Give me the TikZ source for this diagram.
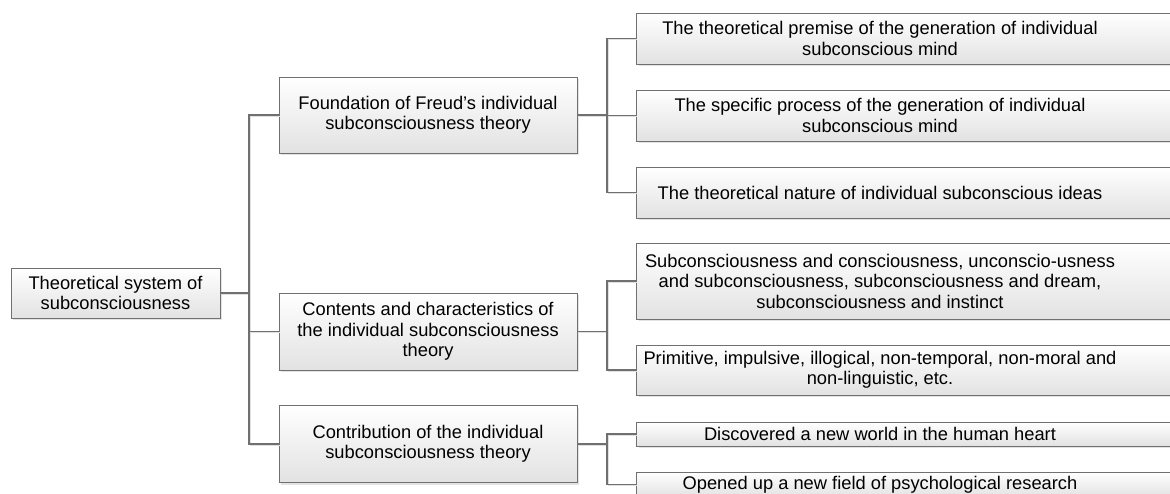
\documentclass[tikz,border=0pt]{standalone}
\usepackage{fontspec}
\setmainfont{Liberation Sans}
\usetikzlibrary{shadows}
\definecolor{edge}{RGB}{112,112,112}
\definecolor{boxbot}{RGB}{226,226,226}
\tikzset{
  box/.style={draw=edge, line width=0.9pt, rectangle, top color=white, bottom color=boxbot,
    drop shadow={shadow xshift=2.2pt, shadow yshift=-2.2pt, fill=black!18, opacity=0.6},
    inner sep=0pt, align=center, font=\fontsize{18.3}{20.5}\selectfont},
  txt/.style={inner sep=0pt, align=center, font=\fontsize{18.3}{20.5}\selectfont},
  conn/.style={draw=edge, line width=1.1pt,
    preaction={draw=black!12, line width=1.1pt, transform canvas={shift={(1.4pt,-1.4pt)}}}}
}
\begin{document}
\begin{tikzpicture}[x=1pt,y=-1pt]
\useasboundingbox (0,0) rectangle (1170,494);
\clip (0,0) rectangle (1170,494);
\fill[white] (0,0) rectangle (1170,494);

% junction coordinates
\coordinate (j0) at (249,0);
\coordinate (j1) at (607,0);

% root
\node[box, minimum width=209, minimum height=50] (root) at (115.5,293) {Theoretical system of\\subconsciousness};

% level 1
\node[box, minimum width=298, minimum height=76] (f1) at (428,115) {Foundation of Freud's individual\\subconsciousness theory};
\node[box, minimum width=298, minimum height=77] (f2) at (428,331.5) {Contents and characteristics of\\the individual subconsciousness\\theory};
\node[box, minimum width=298, minimum height=77] (f3) at (428,444) {Contribution of the individual\\subconsciousness theory};

% level 2 boxes (extend past the right edge)
\node[box, minimum width=560, minimum height=51, anchor=west] (a1) at (636,38.5) {};
\node[box, minimum width=560, minimum height=51, anchor=west] (a2) at (636,115.5) {};
\node[box, minimum width=560, minimum height=51, anchor=west] (a3) at (636,192.5) {};
\node[box, minimum width=560, minimum height=76, anchor=west] (b1) at (636,281) {};
\node[box, minimum width=560, minimum height=50, anchor=west] (b2) at (636,370) {};
\node[box, minimum width=560, minimum height=24, anchor=west] (c1) at (636,434) {};
\node[box, minimum width=560, minimum height=25, anchor=west] (c2) at (636,484.5) {};

% level 2 texts
\node[txt] (a1t) at (880,38.5) {The theoretical premise of the generation of individual\\subconscious mind};
\node[txt] (a2t) at (880,115.5) {The specific process of the generation of individual\\subconscious mind};
\node[txt] (a3t) at (880,192.5) {The theoretical nature of individual subconscious ideas};
\node[txt] (b1t) at (880,281) {Subconsciousness and consciousness, unconscio-usness\\and subconsciousness, subconsciousness and dream,\\subconsciousness and instinct};
\node[txt] (b2t) at (880,370) {Primitive, impulsive, illogical, non-temporal, non-moral and\\non-linguistic, etc.};
\node[txt] (c1t) at (880,434) {Discovered a new world in the human heart};
\node[txt] (c2t) at (880,484.5) {Opened up a new field of psychological research};

% connectors root -> level 1
\draw[conn] (root.east) -- (root.east -| j0);
\draw[conn] (f1.west) -- (f1.west -| j0) |- (f3.west);
\draw[conn] (f2.west) -- (f2.west -| j0);

% connectors level 1 -> level 2
\draw[conn] (f1.east) -- (f1.east -| j1);
\draw[conn] (a1.west) -- (a1.west -| j1) |- (a3.west);
\draw[conn] (a2.west) -- (a2.west -| j1);

\draw[conn] (f2.east) -- (f2.east -| j1);
\draw[conn] (b1.west) -- (b1.west -| j1) |- (b2.west);

\draw[conn] (f3.east) -- (f3.east -| j1);
\draw[conn] (c1.west) -- (c1.west -| j1) |- (c2.west);
\end{tikzpicture}
\end{document}
